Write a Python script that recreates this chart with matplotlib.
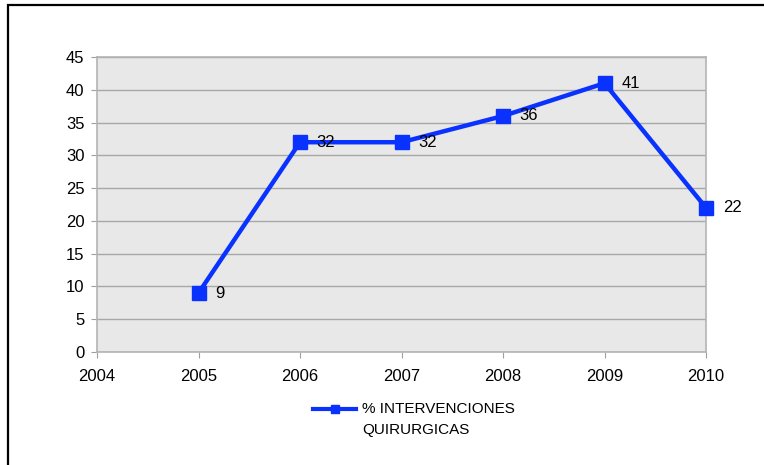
import matplotlib
matplotlib.use("Agg")
import matplotlib.pyplot as plt
from matplotlib.patches import Rectangle
from matplotlib.lines import Line2D

years = [2005, 2006, 2007, 2008, 2009, 2010]
values = [9, 32, 32, 36, 41, 22]
series_name_lines = ["% INTERVENCIONES", "QUIRURGICAS"]
x_ticks = [2004, 2005, 2006, 2007, 2008, 2009, 2010]
y_ticks = [0, 5, 10, 15, 20, 25, 30, 35, 40, 45]

plt.rcParams['font.family'] = ['Liberation Sans', 'DejaVu Sans']

W, H = 764, 465
fig = plt.figure(figsize=(W/100, H/100), dpi=100)
ax = fig.add_axes([97/W, 1-352/H, (706-97)/W, (352-57)/H])
ax.set_facecolor('#e8e8e8')

# outer border (extends beyond right/bottom edges)
fig.patches.append(Rectangle((8/W, -0.1), 1.2, 1-5/H+0.1, transform=fig.transFigure,
                             fill=False, edgecolor='black', linewidth=1.6))

ax.set_xlim(2004, 2010)
ax.set_ylim(0, 45)
ax.set_xticks(x_ticks)
ax.set_yticks(y_ticks)
ax.grid(axis='y', color='#a8a8a8', linewidth=1)
ax.set_axisbelow(True)
for s in ax.spines.values():
    s.set_color('#b4b4b4')
    s.set_linewidth(1.2)
ax.tick_params(axis='both', colors='#a0a0a0', labelcolor='black', labelsize=12, length=4)
ax.tick_params(axis='y', pad=5)
ax.tick_params(axis='x', pad=8)

color = '#0a32ff'
ax.plot(years, values, color=color, linewidth=3.2, marker='s', markersize=10,
        clip_on=False, zorder=5)
for x, y in zip(years, values):
    ax.annotate(str(y), (x, y), xytext=(12, 0), textcoords='offset points',
                va='center', ha='left', fontsize=12, zorder=6)

# legend (handle aligned with first text line)
ly = 1 - 409/H
fig.add_artist(Line2D([313/W, 356/W], [ly, ly], transform=fig.transFigure,
                      color=color, linewidth=3))
fig.add_artist(Line2D([334.5/W], [ly], transform=fig.transFigure, color=color,
                      marker='s', markersize=6, linestyle='none'))
fig.text(362/W, ly, series_name_lines[0], fontsize=11, va='center', ha='left')
fig.text(362/W, 1 - 430/H, series_name_lines[1], fontsize=11, va='center', ha='left')

fig.savefig('out.png', dpi=100)
